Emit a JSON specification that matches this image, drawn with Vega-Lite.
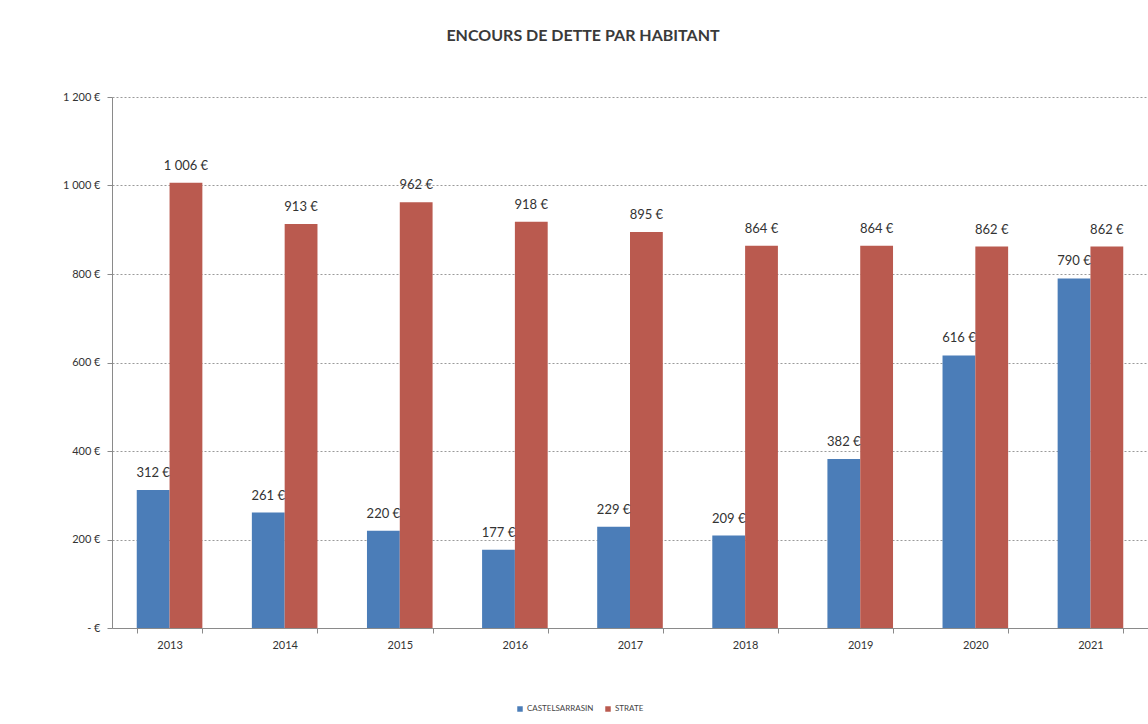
{
  "$schema": "https://vega.github.io/schema/vega-lite/v6.json",
  "width": 1036,
  "height": 531,
  "autosize": {"type": "none"},
  "padding": {"left": 112, "top": 97, "right": 0, "bottom": 96},
  "background": "white",
  "title": {
    "text": "ENCOURS DE DETTE PAR HABITANT",
    "font": "Lato",
    "fontSize": 16,
    "fontWeight": "bold",
    "color": "#3a3a3a",
    "anchor": "middle",
    "dx": -47,
    "offset": 47
  },
  "data": {
    "values": [
      {"annee": "2013", "serie": "CASTELSARRASIN", "valeur": 312},
      {"annee": "2013", "serie": "STRATE", "valeur": 1006},
      {"annee": "2014", "serie": "CASTELSARRASIN", "valeur": 261},
      {"annee": "2014", "serie": "STRATE", "valeur": 913},
      {"annee": "2015", "serie": "CASTELSARRASIN", "valeur": 220},
      {"annee": "2015", "serie": "STRATE", "valeur": 962},
      {"annee": "2016", "serie": "CASTELSARRASIN", "valeur": 177},
      {"annee": "2016", "serie": "STRATE", "valeur": 918},
      {"annee": "2017", "serie": "CASTELSARRASIN", "valeur": 229},
      {"annee": "2017", "serie": "STRATE", "valeur": 895},
      {"annee": "2018", "serie": "CASTELSARRASIN", "valeur": 209},
      {"annee": "2018", "serie": "STRATE", "valeur": 864},
      {"annee": "2019", "serie": "CASTELSARRASIN", "valeur": 382},
      {"annee": "2019", "serie": "STRATE", "valeur": 864},
      {"annee": "2020", "serie": "CASTELSARRASIN", "valeur": 616},
      {"annee": "2020", "serie": "STRATE", "valeur": 862},
      {"annee": "2021", "serie": "CASTELSARRASIN", "valeur": 790},
      {"annee": "2021", "serie": "STRATE", "valeur": 862}
    ]
  },
  "encoding": {
    "x": {
      "field": "annee",
      "type": "nominal",
      "title": null,
      "scale": {"paddingInner": 0.43, "paddingOuter": 0.215},
      "axis": {
        "labelAngle": 0,
        "labelFont": "Lato",
        "labelFontSize": 11,
        "labelColor": "#333333",
        "labelPadding": 6,
        "domainColor": "#8a8a8a",
        "tickColor": "#8a8a8a",
        "tickBand": "extent",
        "tickSize": 5,
        "grid": false
      }
    },
    "xOffset": {"field": "serie", "type": "nominal"},
    "y": {
      "field": "valeur",
      "type": "quantitative",
      "title": null,
      "scale": {"domain": [0, 1200], "nice": false},
      "axis": {
        "values": [0, 200, 400, 600, 800, 1000, 1200],
        "labelExpr": "datum.value == 0 ? '- €' : replace(format(datum.value, ',d'), ',', ' ') + ' €'",
        "labelFont": "Lato",
        "labelFontSize": 11,
        "labelColor": "#333333",
        "labelPadding": 7,
        "domainColor": "#8a8a8a",
        "tickColor": "#8a8a8a",
        "tickSize": 5,
        "gridColor": "#9a9a9a",
        "gridDash": [2, 2],
        "gridWidth": 1
      }
    }
  },
  "layer": [
    {
      "mark": {"type": "bar"},
      "encoding": {
        "color": {
          "field": "serie",
          "type": "nominal",
          "scale": {"domain": ["CASTELSARRASIN", "STRATE"], "range": ["#4b7db8", "#ba5a4f"]},
          "legend": {
            "title": null,
            "orient": "none",
            "direction": "horizontal",
            "legendX": 404,
            "legendY": 608,
            "symbolType": "square",
            "symbolSize": 30,
            "symbolStrokeWidth": 0,
            "labelFont": "Lato",
            "labelFontSize": 8,
            "labelColor": "#444444",
            "columnPadding": 10,
            "labelOffset": 3
          }
        }
      }
    },
    {
      "mark": {"type": "text", "dy": -10, "font": "Lato", "fontSize": 13, "color": "#333333", "baseline": "bottom"},
      "encoding": {
        "text": {"field": "label", "type": "nominal"}
      },
      "transform": [
        {"calculate": "replace(format(datum.valeur, ',d'), ',', ' ') + ' €'", "as": "label"}
      ]
    }
  ],
  "config": {
    "view": {"stroke": null}
  }
}
